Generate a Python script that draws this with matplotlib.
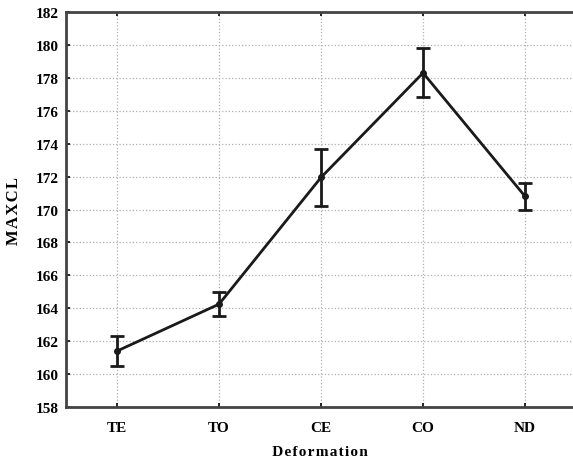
import matplotlib
matplotlib.use('Agg')
import matplotlib.pyplot as plt

categories = ['TE', 'TO', 'CE', 'CO', 'ND']
means = [161.4, 164.25, 171.95, 178.3, 170.8]
err_low = [0.9, 0.75, 1.75, 1.45, 0.85]
err_high = [0.9, 0.75, 1.7, 1.5, 0.8]
yticks = list(range(158, 183, 2))

plt.rcParams['font.family'] = 'Liberation Serif'
plt.rcParams['font.weight'] = 'bold'

fig = plt.figure(figsize=(5.73, 4.6), dpi=100)
ax = fig.add_axes([0.1152, 0.113, 0.8848, 0.8587])

x = list(range(len(categories)))
ax.errorbar(x, means, yerr=[err_low, err_high], color='#1a1a1a', lw=2,
            marker='o', markersize=4, capsize=5, capthick=2, elinewidth=2)

ax.set_xlim(-0.5, 4.47)
ax.set_ylim(158, 182)
ax.set_xticks(x)
ax.set_xticklabels(categories)
ax.set_yticks(yticks)
ax.tick_params(direction='in', length=3, width=1.2, labelsize=11, top=True, right=False)
ax.tick_params(axis='x', pad=10)
ax.tick_params(axis='y', pad=5)
ax.grid(True, linestyle=':', color='#b0b0b0', lw=0.9)
ax.set_axisbelow(True)

for s in ['left', 'bottom', 'top']:
    ax.spines[s].set_color('#444444')
    ax.spines[s].set_linewidth(2)
ax.spines['right'].set_visible(False)

# letter-spaced axis titles
ax.set_xlabel('\u200aD\u200ae\u200af\u200ao\u200ar\u200am\u200aa\u200at\u200ai\u200ao\u200an',
              fontsize=11, fontweight='bold', labelpad=8)
ax.set_ylabel('M\u200aA\u200aX\u200aC\u200aL', fontsize=12, fontweight='bold', labelpad=10)

fig.savefig('out.png', dpi=100)
